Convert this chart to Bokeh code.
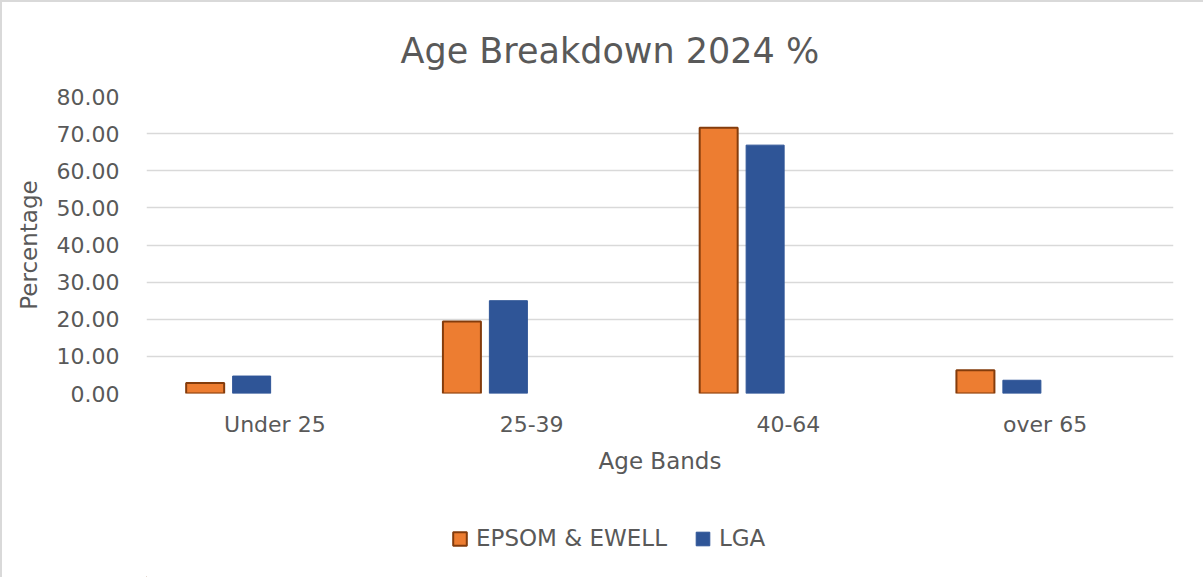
from bokeh.plotting import figure
from bokeh.layouts import column
from bokeh.models import (ColumnDataSource, FactorRange, Range1d, FixedTicker,
                          NumeralTickFormatter, Legend, LegendItem)
from bokeh.transform import dodge
from bokeh.embed import file_html
from bokeh.resources import INLINE

# Age bands and the share (%) of each group in 2024
bands = ["Under 25", "25-39", "40-64", "over 65"]
epsom_ewell = [2.85, 19.4, 71.6, 6.25]
lga = [4.7, 25.0, 66.9, 3.57]
y_ticks = [0, 10, 20, 30, 40, 50, 60, 70, 80]
series_names = ["EPSOM & EWELL", "LGA"]

TEXT = "#595959"
FONT = "DejaVu Sans"
ORANGE, ORANGE_EDGE = "#ED7D31", "#843C0C"
BLUE = "#2F5597"

source = ColumnDataSource(data=dict(band=bands, epsom=epsom_ewell, lga=lga))

p = figure(width=1201, height=500, output_backend="svg", toolbar_location=None,
           x_range=FactorRange(factors=bands, range_padding=0),
           y_range=Range1d(0, 80),
           min_border_left=144, min_border_right=30,
           min_border_top=93, min_border_bottom=109)

p.title.text = "Age Breakdown 2024 %"
p.title.align = "left"
p.title.offset = 254
p.title.text_font = FONT
p.title.text_font_size = "35px"
p.title.text_font_style = "normal"
p.title.text_color = TEXT
p.title.standoff = 52

# four slots per band; the two series fill the first two
slot = 0.181
p.vbar(x=dodge("band", -1.5 * slot, range=p.x_range), top="epsom", width=0.148,
       source=source, fill_color=ORANGE, line_color=ORANGE_EDGE, line_width=2)
p.vbar(x=dodge("band", -0.5 * slot, range=p.x_range), top="lga", width=0.148,
       source=source, fill_color=BLUE, line_color=BLUE, line_width=1)

p.outline_line_color = None
p.xgrid.grid_line_color = None
p.ygrid.grid_line_color = "#d9d9d9"
p.ygrid.grid_line_width = 1.5

p.yaxis.ticker = FixedTicker(ticks=y_ticks)
p.yaxis.formatter = NumeralTickFormatter(format="0.00")

for ax in (p.xaxis[0], p.yaxis[0]):
    ax.axis_line_color = None
    ax.major_tick_line_color = None
    ax.minor_tick_line_color = None
    ax.major_tick_out = 0
    ax.major_tick_in = 0
    ax.major_label_text_font = FONT
    ax.major_label_text_font_size = "22px"
    ax.major_label_text_color = TEXT
    ax.axis_label_text_font = FONT
    ax.axis_label_text_font_size = "23px"
    ax.axis_label_text_font_style = "normal"
    ax.axis_label_text_color = TEXT

p.xaxis.axis_label = "Age Bands"
p.yaxis.axis_label = "Percentage"
p.xaxis.major_label_standoff = 18
p.xaxis.axis_label_standoff = 8
p.yaxis.major_label_standoff = 27
p.yaxis.axis_label_standoff = 12

# legend strip under the chart; its key glyphs sit far outside the visible range
leg = figure(width=1201, height=75, output_backend="svg", toolbar_location=None,
             x_axis_location=None, y_axis_location=None, min_border=0,
             x_range=Range1d(0, 1), y_range=Range1d(0, 1))
leg.outline_line_color = None
leg.grid.grid_line_color = None
k1 = leg.vbar(x=[-100], bottom=[-100], top=[-90], width=0.1,
              fill_color=ORANGE, line_color=ORANGE_EDGE, line_width=2)
k2 = leg.vbar(x=[-100], bottom=[-100], top=[-90], width=0.1,
              fill_color=BLUE, line_color=BLUE, line_width=1)
legend = Legend(items=[LegendItem(label=series_names[0], renderers=[k1]),
                       LegendItem(label=series_names[1], renderers=[k2])],
                orientation="horizontal", location=(305, 26),
                label_text_font=FONT, label_text_font_size="23px",
                label_text_color=TEXT, glyph_width=17, glyph_height=17,
                label_standoff=8, spacing=27, padding=0, margin=0,
                border_line_color=None, background_fill_alpha=0)
leg.add_layout(legend, "center")

layout = column(p, leg, spacing=0,
                styles={"border-left": "2px solid #d9d9d9",
                        "border-top": "2px solid #d9d9d9",
                        "border-right": "0px none",
                        "border-bottom": "0px none"})

open("out.html", "w").write(file_html(layout, INLINE))
